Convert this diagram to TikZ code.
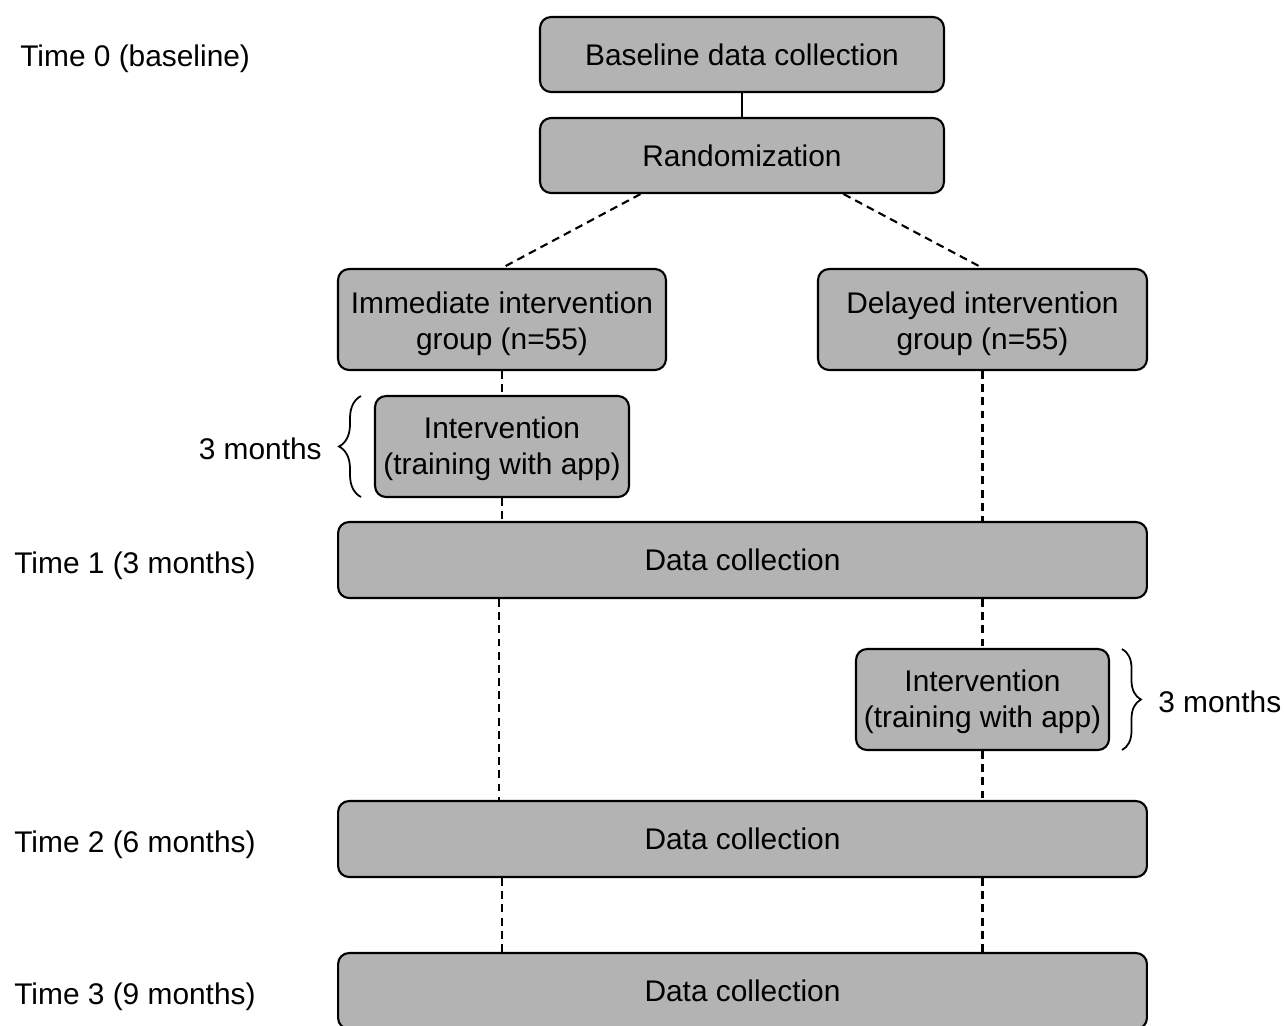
\documentclass[tikz,border=0pt]{standalone}
\usepackage{fontspec}
\setmainfont{Liberation Sans}
\usetikzlibrary{positioning,calc,decorations.pathreplacing}
\definecolor{boxgray}{RGB}{179,179,179}
\newcommand{\lift}[1]{\rule{0pt}{#1}}

\begin{document}
\begin{tikzpicture}[x=0.02cm,y=-0.02cm,
  every node/.style={font=\fontsize{17}{20.5}\selectfont},
  stage/.style={draw,line width=1.2pt,fill=boxgray,rounded corners=0.22cm,
    align=center,inner sep=0pt,minimum height=1.5cm},
  twoline/.style={stage,minimum height=2.02cm},
  timelabel/.style={anchor=west,inner sep=0pt},
  link/.style={line width=1.2pt,dash pattern=on 4.5pt off 3pt},
  span/.style={line width=1pt,decorate,decoration={brace,amplitude=#1}}]
\useasboundingbox (0,0) rectangle (1284,1025);

\node[stage,minimum width=8.08cm] (Baseline) at (742,54.5) {Baseline data collection};
\node[stage,minimum width=8.08cm] (Randomization) at (742,155.5) {Randomization};
\node[twoline,minimum width=6.56cm] (Immediate) at (502,319.5) {\lift{17pt}Immediate intervention\\group (n=55)};
\node[twoline,minimum width=6.58cm] (Delayed) at (982.5,319.5) {\lift{17pt}Delayed intervention\\group (n=55)};
\node[twoline,minimum width=5.08cm] (TrainingA) at (502,446.5) {\lift{15pt}Intervention\\(training with app)};
\node[stage,minimum width=16.18cm,minimum height=1.52cm] (CollectA) at (742.5,560) {Data collection};
\node[twoline,minimum width=5.06cm] (TrainingB) at (982.5,699.5) {\lift{15pt}Intervention\\(training with app)};
\node[stage,minimum width=16.18cm,minimum height=1.52cm] (CollectB) at (742.5,839) {Data collection};
\node[stage,minimum width=16.18cm,minimum height=1.52cm] (CollectC) at (742.5,991) {Data collection};

% time points
\node[timelabel] (TimeZero) at (20,59) {Time 0 (baseline)};
\node[timelabel] (TimeOne) at (14,566) {Time 1 (3 months)};
\node[timelabel] (TimeTwo) at (14,845) {Time 2 (6 months)};
\node[timelabel] (TimeThree) at (14,997) {Time 3 (9 months)};

% connectors
\draw[line width=1.2pt] (Baseline) -- (Randomization);
\draw[link] ($(Randomization.south west)!0.25!(Randomization.south east)$) -- (Immediate.north);
\draw[link] ($(Randomization.south west)!0.75!(Randomization.south east)$) -- (Delayed.north);
\draw[link] (Immediate) -- (TrainingA);
\draw[link] (TrainingA) -- (TrainingA.south |- CollectA.north);
\draw[link] (Delayed.south) -- (Delayed.south |- CollectA.north);
\draw[link] ([xshift=-0.06cm]Immediate.south |- CollectA.south) -- ([xshift=-0.06cm]Immediate.south |- CollectB.north);
\draw[link] (TrainingB.north |- CollectA.south) -- (TrainingB);
\draw[link] (TrainingB) -- (TrainingB.south |- CollectB.north);
\draw[link] (Immediate.south |- CollectB.south) -- (Immediate.south |- CollectC.north);
\draw[link] (TrainingB.south |- CollectB.south) -- (TrainingB.south |- CollectC.north);

% three month spans
\draw[span=0.44cm] (361,497) -- (361,396);
\node[anchor=east,inner sep=0pt] (SpanA) at (322,449) {3 months};
\draw[span=0.38cm] (1122,649) -- (1122,750);
\node[anchor=west,inner sep=0pt] (SpanB) at (1158,702) {3 months};
\end{tikzpicture}
\end{document}
